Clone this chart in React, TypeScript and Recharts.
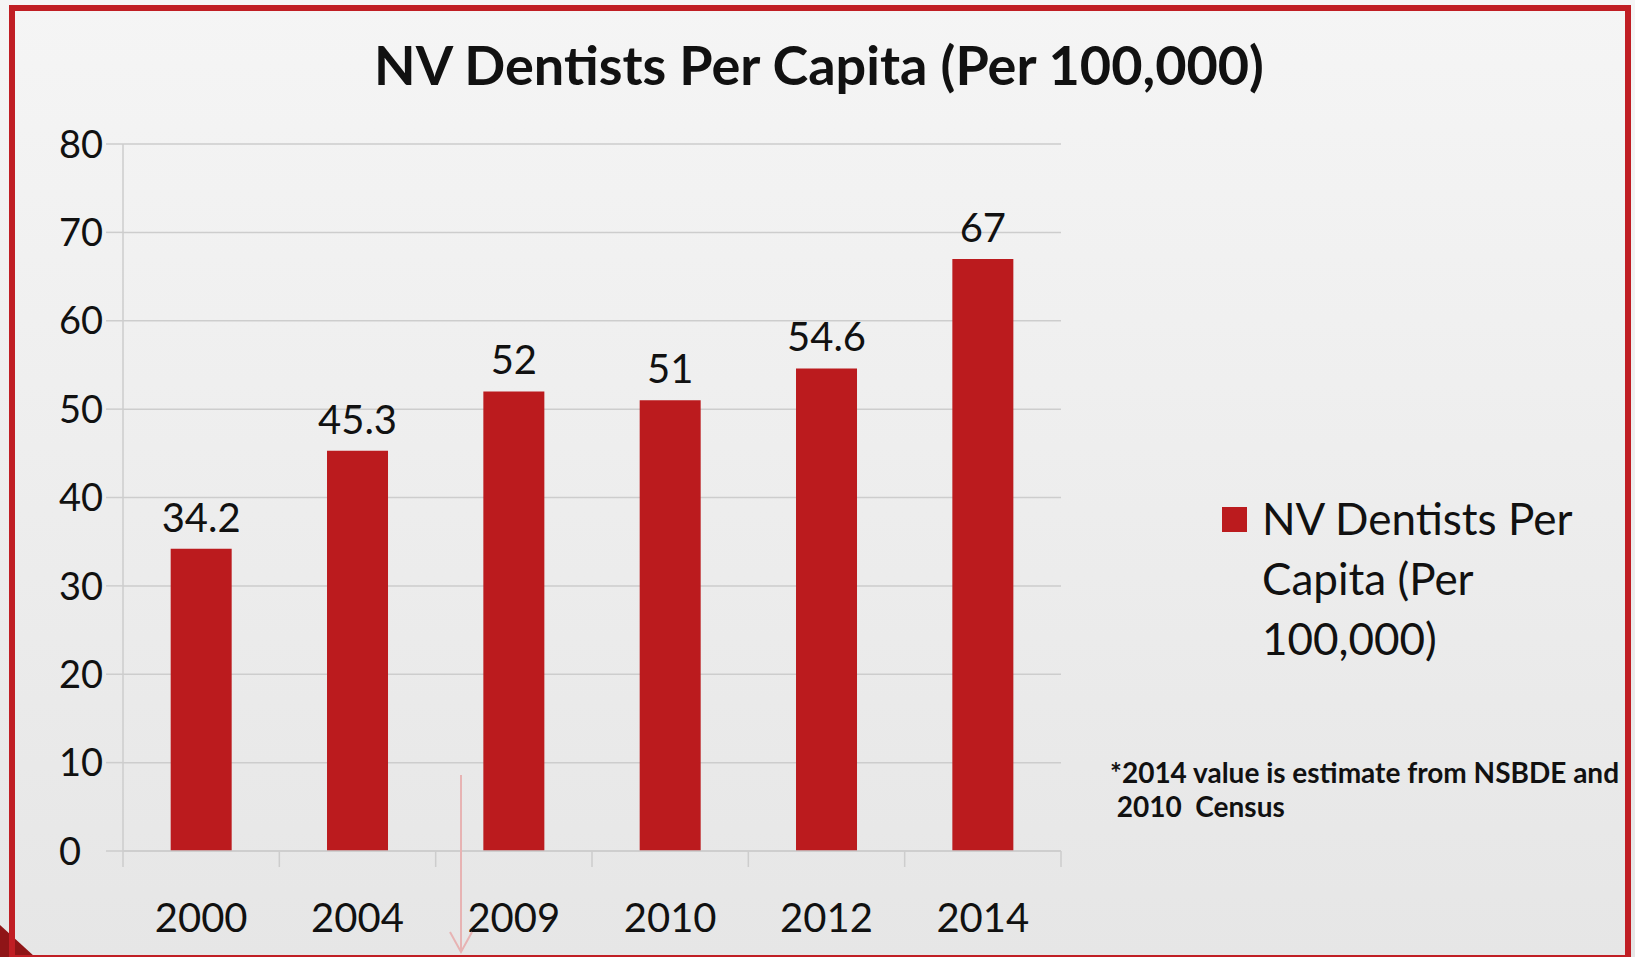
import { Bar, BarChart, CartesianGrid, LabelList, XAxis, YAxis } from "recharts";

const years = ["2000", "2004", "2009", "2010", "2012", "2014"];
const dentistsPer100k = [34.2, 45.3, 52, 51, 54.6, 67];
const yTicks = [0, 10, 20, 30, 40, 50, 60, 70, 80];

const seriesName = "NV Dentists Per Capita (Per 100,000)";
const data = years.map((year, i) => ({ year, value: dentistsPer100k[i] }));

const W = 1635;
const H = 957;
const PLOT_LEFT = 123;
const PLOT_RIGHT = 1061;
const PLOT_TOP = 144;
const PLOT_BOTTOM = 851;
const BAND = (PLOT_RIGHT - PLOT_LEFT) / years.length;

const RED = "#bb1b1e";
const GRID = "#cdcdcd";
const FONT = "Lato, 'Open Sans', sans-serif";

function YTick(props: any) {
  const { y, payload } = props;
  return (
    <text x={59} y={y} dy="0.36em" textAnchor="start" fontSize={38} fontFamily={FONT} fill="#111">
      {payload.value}
    </text>
  );
}

function XTick(props: any) {
  const { x, y, payload, index } = props;
  const left = x - BAND / 2;
  const last = index === years.length - 1;
  return (
    <g>
      <line x1={left} x2={left} y1={y} y2={y + 16} stroke={GRID} strokeWidth={1.5} />
      {last && <line x1={x + BAND / 2} x2={x + BAND / 2} y1={y} y2={y + 16} stroke={GRID} strokeWidth={1.5} />}
      <text x={x} y={y + 67} dy="0.36em" textAnchor="middle" fontSize={40} fontFamily={FONT} fill="#111">
        {payload.value}
      </text>
    </g>
  );
}

export default function App() {
  return (
    <div
      style={{
        position: "absolute",
        left: 0,
        top: 0,
        width: W,
        height: H,
        overflow: "hidden",
        background: "linear-gradient(#f5f5f5, #e6e6e6)",
        fontFamily: FONT,
      }}
    >
      <svg width={W} height={H} style={{ position: "absolute", left: 0, top: 0 }}>
        <polygon points="0,925 0,957 35,957" fill="#8f1517" />
      </svg>
      <div
        style={{
          position: "absolute",
          left: 9,
          top: 5,
          width: 1622,
          height: 956,
          boxSizing: "border-box",
          border: "6px solid #c01e24",
        }}
      />
      <div
        style={{
          position: "absolute",
          left: 0,
          top: 30,
          width: 1638,
          textAlign: "center",
          fontSize: 54,
          fontWeight: 700,
          color: "#111",
          lineHeight: "70px",
        }}
      >
        NV Dentists Per Capita (Per 100,000)
      </div>
      <div style={{ position: "absolute", left: 0, top: 0 }}>
        <BarChart
          width={W}
          height={H}
          data={data}
          margin={{ top: PLOT_TOP, right: W - PLOT_RIGHT, bottom: 0, left: 0 }}
          barCategoryGap="30.5%"
        >
          <CartesianGrid horizontal vertical={false} stroke={GRID} strokeWidth={1.5} />
          <XAxis
            dataKey="year"
            height={H - PLOT_BOTTOM}
            axisLine={{ stroke: GRID, strokeWidth: 1.5 }}
            tickLine={false}
            tickSize={0}
            tickMargin={0}
            tick={<XTick />}
            interval={0}
          />
          <YAxis
            width={PLOT_LEFT}
            domain={[0, 80]}
            ticks={yTicks}
            axisLine={{ stroke: GRID, strokeWidth: 1.5 }}
            tickLine={{ stroke: GRID, strokeWidth: 1.5 }}
            tickSize={17}
            tick={<YTick />}
            interval={0}
          />
          <Bar dataKey="value" name={seriesName} fill={RED} isAnimationActive={false}>
            <LabelList dataKey="value" position="top" offset={17} fontSize={40} fontFamily={FONT} fill="#111" />
          </Bar>
        </BarChart>
      </div>
      <div style={{ position: "absolute", left: 1222, top: 488, display: "flex", alignItems: "flex-start" }}>
        <div style={{ width: 25, height: 25, background: RED, marginTop: 19, marginRight: 15, flex: "none" }} />
        <div style={{ fontSize: 44, lineHeight: "60px", color: "#111", width: 360 }}>{seriesName}</div>
      </div>
      <div
        style={{
          position: "absolute",
          left: 1110,
          top: 755,
          fontSize: 28,
          fontWeight: 700,
          lineHeight: "34px",
          color: "#111",
          whiteSpace: "pre",
        }}
      >
        {"*2014 value is estimate from NSBDE and\n 2010  Census"}
      </div>
      <svg width={W} height={H} style={{ position: "absolute", left: 0, top: 0, pointerEvents: "none" }}>
        <line x1={461} x2={461} y1={775} y2={952} stroke="#e7b3b3" strokeWidth={2} />
        <polyline points="450,932 461,952 472,932" fill="none" stroke="#e7b3b3" strokeWidth={2} />
      </svg>
    </div>
  );
}
